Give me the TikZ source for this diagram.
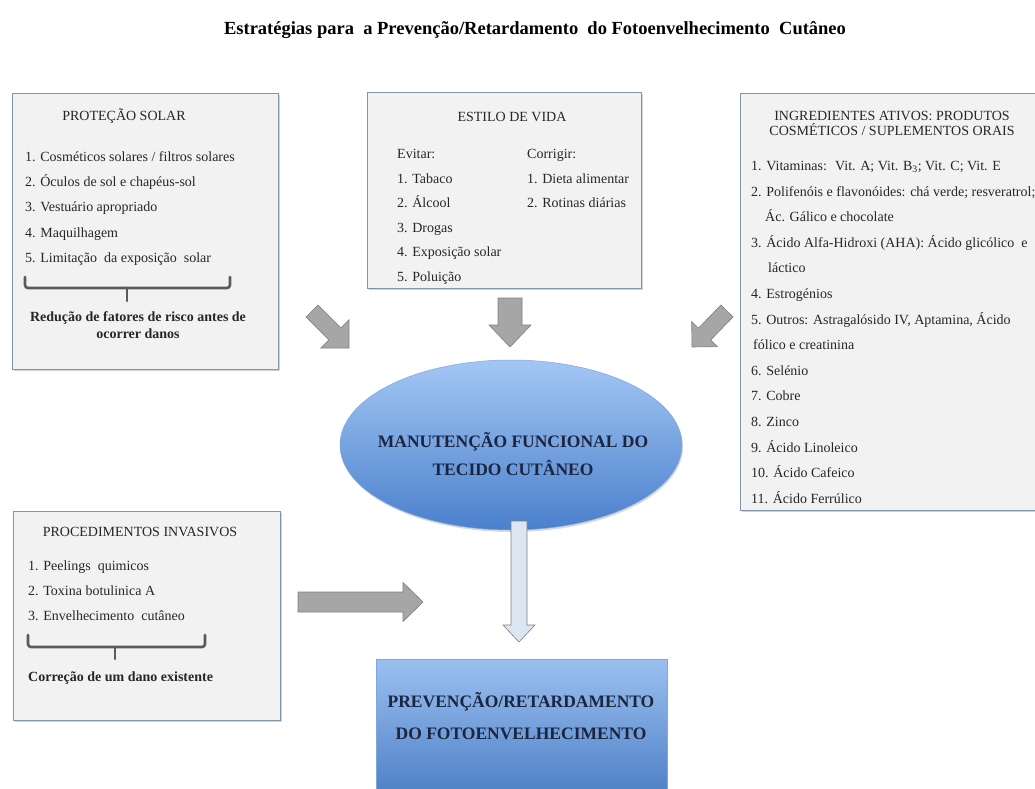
\documentclass[tikz,border=0pt]{standalone}
\usepackage{fontspec}
\setmainfont{Liberation Serif}
\usetikzlibrary{shapes.geometric,shadows,calc}

\definecolor{fundocaixa}{HTML}{F2F2F2}
\definecolor{bordacaixa}{HTML}{8394AE}
\definecolor{cinzaseta}{HTML}{A6A6A6}
\definecolor{bordaseta}{HTML}{7F7F7F}
\definecolor{setaclara}{HTML}{DCE6F2}
\definecolor{azulclaro}{HTML}{A3C7F4}
\definecolor{azulescuro}{HTML}{4A80CC}
\definecolor{azultexto}{HTML}{1C2540}
\definecolor{corchave}{HTML}{5A5A5A}
\definecolor{textocaixa}{HTML}{262626}

\tikzset{
  caixa/.style={draw=bordacaixa, line width=0.8pt, fill=fundocaixa, anchor=north west, inner sep=0pt,
    drop shadow={shadow xshift=1.5pt, shadow yshift=-2pt, opacity=0.35}},
  item/.style={anchor=west, inner sep=0pt, text=textocaixa, font=\fontsize{14}{16}\selectfont,
    text height=10pt, text depth=3pt},
  cabeca/.style={item, anchor=center},
  negrito/.style={item, font=\fontsize{14}{16}\selectfont\bfseries},
  grande/.style={inner sep=0pt, align=center, text=azultexto},
  setabloco/.style={fill=cinzaseta, draw=bordaseta, line width=0.6pt},
  chaveta/.style={draw=corchave, line width=2.6pt, rounded corners=3pt, line cap=round}
}

% seta larga: [estilo]{cauda}{ponta}{meia haste}{meia cabeca}{comprimento da cabeca}
\newcommand{\blocoseta}[6][]{%
  \coordinate (hb) at ($(#3)!#6!(#2)$);
  \draw[setabloco,#1] ($(#2)!#4!90:(#3)$) -- ($(hb)!#4!90:(#3)$) -- ($(hb)!#5!90:(#3)$) -- (#3)
    -- ($(hb)!#5!-90:(#3)$) -- ($(hb)!#4!-90:(#3)$) -- ($(#2)!#4!-90:(#3)$) -- cycle;
}

\begin{document}
\begin{tikzpicture}[x=1pt, y=-1pt]
\useasboundingbox (0,0) rectangle (1035,788);
\clip (0,0) rectangle (1035,788);

% Titulo
\node[font=\fontsize{18.5}{20}\selectfont\bfseries, inner sep=0pt] (titulo) at (535,30)
  {Estratégias para~ a Prevenção/Retardamento~ do Fotoenvelhecimento~ Cutâneo};

% Protecao solar
\node[caixa, minimum width=266, minimum height=276] (solar) at (12,93) {};
\node[cabeca] (solar-cab) at (124,117) {PROTEÇÃO SOLAR};
\foreach \t [count=\i] in {1. Cosméticos solares / filtros solares, 2. Óculos de sol e chapéus-sol,
  3. Vestuário apropriado, 4. Maquilhagem, 5. Limitação~ da exposição~ solar}
  \node[item] (solar-\i) at (25,{158+25.2*(\i-1)}) {\t};
% chaveta
\draw[chaveta] (25,277) -- (25,288) -- (230,288) -- (230,277);
\draw[chaveta] (127,288) -- (127,301);
\node[negrito, anchor=center] (risco-a) at (138,318) {Redução de fatores de risco antes de};
\node[negrito, anchor=center] (risco-b) at (138,335) {ocorrer danos};

% Estilo de vida
\node[caixa, minimum width=274, minimum height=196] (vida) at (367,92) {};
\node[cabeca] (vida-cab) at (512,118) {ESTILO DE VIDA};
\foreach \t [count=\i] in {Evitar:, 1. Tabaco, 2. Álcool, 3. Drogas, 4. Exposição solar, 5. Poluição}
  \node[item] (evitar-\i) at (397,{155+24.6*(\i-1)}) {\t};
\foreach \t [count=\i] in {Corrigir:, 1. Dieta alimentar, 2. Rotinas diárias}
  \node[item] (corrigir-\i) at (527,{155+24.6*(\i-1)}) {\t};

% Ingredientes ativos
\node[caixa, minimum width=310, minimum height=417] (ativos) at (740,93) {};
\node[cabeca] (ativos-cab-a) at (892,117) {INGREDIENTES ATIVOS: PRODUTOS};
\node[cabeca] (ativos-cab-b) at (892,132) {COSMÉTICOS / SUPLEMENTOS ORAIS};
\foreach \x/\t [count=\i] in {751/{1. Vitaminas:~ Vit. A; Vit. B\textsubscript{3}; Vit. C; Vit. E},
  751/{2. Polifenóis e flavonóides: chá verde; resveratrol;}, 765/{Ác. Gálico e chocolate},
  751/{3. Ácido Alfa-Hidroxi (AHA): Ácido glicólico~ e}, 768/{láctico}, 751/{4. Estrogénios},
  751/{5. Outros: Astragalósido IV, Aptamina, Ácido}, 753/{fólico e creatinina}, 751/{6. Selénio},
  751/{7. Cobre}, 751/{8. Zinco}, 751/{9. Ácido Linoleico}, 751/{10. Ácido Cafeico}, 751/{11. Ácido Ferrúlico}}
  \node[item] (ativos-\i) at (\x,{167+25.6*(\i-1)}) {\t};

% Procedimentos invasivos
\node[caixa, minimum width=267, minimum height=209] (invasivos) at (13,511) {};
\node[cabeca] (invasivos-cab) at (140,533) {PROCEDIMENTOS INVASIVOS};
\foreach \t [count=\i] in {1. Peelings~ quimicos, 2. Toxina botulinica A, 3. Envelhecimento~ cutâneo}
  \node[item] (invasivos-\i) at (28,{567+25*(\i-1)}) {\t};
\draw[chaveta] (28,635) -- (28,647) -- (205,647) -- (205,635);
\draw[chaveta] (115,647) -- (115,659);
\node[negrito] (dano) at (28,678) {Correção de um dano existente};

% Setas cinzentas
\coordinate (s1a) at (312,311); \coordinate (s1b) at (349,348);
\coordinate (s2a) at (510,298); \coordinate (s2b) at (510,347);
\coordinate (s3a) at (727,311); \coordinate (s3b) at (692,347);
\coordinate (s4a) at (298,602); \coordinate (s4b) at (423,602);
\blocoseta{s1a}{s1b}{8.5pt}{20pt}{20pt}
\blocoseta{s2a}{s2b}{12pt}{21pt}{22pt}
\blocoseta{s3a}{s3b}{8.5pt}{18pt}{18pt}
\blocoseta{s4a}{s4b}{10pt}{19.5pt}{20pt}

% Manutencao funcional
\node[ellipse, minimum width=342, minimum height=170, top color=azulclaro, bottom color=azulescuro,
  draw=azulescuro!70!white, line width=0.5pt,
  drop shadow={shadow xshift=1pt, shadow yshift=-2pt, opacity=0.3}] (pele) at (511,445) {};
\node[grande, font=\fontsize{17.5}{28}\selectfont\bfseries] (pele-txt) at (513,454)
  {MANUTENÇÃO FUNCIONAL DO\\TECIDO CUTÂNEO};

% Seta clara
\coordinate (s5a) at (519,521); \coordinate (s5b) at (519,642);
\blocoseta[fill=setaclara]{s5a}{s5b}{8pt}{16pt}{17pt}

% Prevencao
\node[anchor=north west, minimum width=291, minimum height=150, inner sep=0pt,
  top color=azulclaro!90!azulescuro, bottom color=azulescuro!95!black, draw=azulescuro!70!white,
  line width=0.5pt] (foto) at (376,659) {};
\node[grande, font=\fontsize{17.5}{32}\selectfont\bfseries] (foto-txt) at (521,716)
  {PREVENÇÃO/RETARDAMENTO\\DO FOTOENVELHECIMENTO};
\end{tikzpicture}
\end{document}
